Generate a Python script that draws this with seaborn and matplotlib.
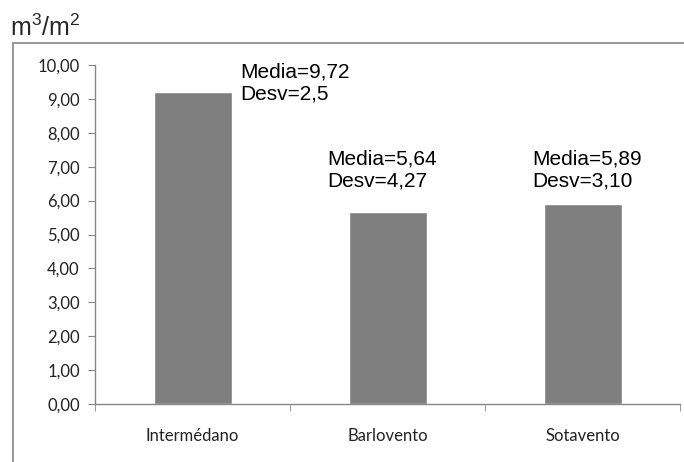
import matplotlib
matplotlib.use('Agg')
import matplotlib.pyplot as plt
import seaborn as sns
import pandas as pd
from matplotlib.lines import Line2D
from matplotlib.ticker import FuncFormatter, FixedLocator

# Datos
zonas = ['Intermédano', 'Barlovento', 'Sotavento']
valores = [9.2, 5.66, 5.9]
medias = ['9,72', '5,64', '5,89']
desvios = ['2,5', '4,27', '3,10']

df = pd.DataFrame({'Zona': zonas, 'Valor': valores})

sns.set_style('white')
plt.rcParams['font.family'] = ['Liberation Sans', 'DejaVu Sans']
plt.rcParams['mathtext.fontset'] = 'custom'
plt.rcParams['mathtext.rm'] = 'Liberation Sans'
plt.rcParams['mathtext.it'] = 'Liberation Sans'

fig = plt.figure(figsize=(6.84, 4.62), dpi=100)
ax = fig.add_axes([95 / 684, 58 / 462, 585 / 684, 339 / 462])

sns.barplot(data=df, x='Zona', y='Valor', color='#7f7f7f', width=0.4,
            saturation=1, ax=ax)

ax.set_ylim(0, 10)
ax.set_xlim(-0.5, 2.5)
ax.set_xlabel('')
ax.set_ylabel('')
ax.set_yticks([i for i in range(11)])
ax.yaxis.set_major_formatter(FuncFormatter(lambda v, p: f'{v:.2f}'.replace('.', ',')))

gris = '#868686'
for s in ['top', 'right']:
    ax.spines[s].set_visible(False)
for s in ['left', 'bottom']:
    ax.spines[s].set_color(gris)
    ax.spines[s].set_linewidth(1)

ax.tick_params(axis='y', which='major', direction='out', length=5, color=gris,
               labelsize=12, labelcolor='#222222', left=True, pad=6)
ax.tick_params(axis='x', which='major', length=0, labelsize=12, pad=17,
               labelcolor='#222222')
ax.xaxis.set_minor_locator(FixedLocator([-0.5, 0.5, 1.5, 2.5]))
ax.tick_params(axis='x', which='minor', direction='out', length=5, color=gris,
               bottom=True)
for lab in ax.get_xticklabels() + ax.get_yticklabels():
    lab.set_family(['Lato', 'DejaVu Sans'])

# Anotaciones
offsets = [(0.245, 10.08), (-0.31, 7.52), (-0.26, 7.52)]
for i, (m, d) in enumerate(zip(medias, desvios)):
    dx, ty = offsets[i]
    ax.text(i + dx, ty, f'Media={m}\nDesv={d}', fontsize=15, ha='left',
            va='top', linespacing=1.22, color='black', clip_on=False)

# Unidad
fig.text(10 / 684, 1 - 36 / 462, 'm$^3$/m$^2$', fontsize=18, ha='left',
         va='baseline')

# Marco exterior
fig.add_artist(Line2D([13 / 684, 13 / 684], [0, 1 - 43 / 462],
                      transform=fig.transFigure, color=gris, lw=1.2))
fig.add_artist(Line2D([13 / 684, 1], [1 - 43 / 462, 1 - 43 / 462],
                      transform=fig.transFigure, color=gris, lw=1.2))

fig.savefig('out.png', dpi=100)
